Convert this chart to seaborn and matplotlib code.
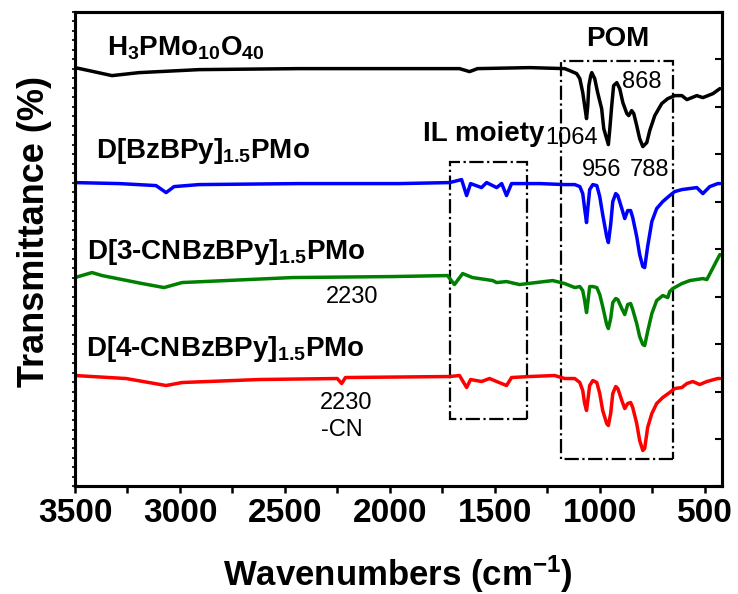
import matplotlib
matplotlib.use("Agg")
import matplotlib.pyplot as plt
from matplotlib.patches import Rectangle
from matplotlib.ticker import MultipleLocator
import seaborn as sns
import pandas as pd

# FTIR spectra, offset transmittance (arbitrary units)
hpmo_wn = [3500, 3433, 3324, 3195, 2909, 2432, 1955, 1669, 1621, 1583, 1335, 1168, 1144, 1111,
           1096, 1082, 1073, 1064, 1058, 1053, 1044, 1039, 1025, 1011, 992, 982, 960, 953, 944,
           935, 920, 906, 891, 872, 863, 849, 839, 825, 811, 796, 777, 763, 739, 706, 677, 643,
           610, 586, 539, 510, 462, 429]
hpmo_t = [419, 416, 411, 414, 417, 418, 418, 418, 415, 418, 419, 418, 416, 413,
          408, 394, 381, 368, 381, 401, 411, 414, 408, 394, 378, 358, 342, 358, 381,
          401, 404, 398, 384, 373, 371, 376, 373, 361, 348, 340, 344, 356, 371, 383, 388, 391,
          391, 387, 391, 389, 393, 398]

bz_wn = [3500, 3290, 3114, 3066, 3028, 2909, 2432, 1955, 1716, 1659, 1635, 1616, 1564, 1540,
         1492, 1468, 1445, 1421, 1287, 1168, 1120, 1096, 1082, 1073, 1064, 1058, 1049, 1034,
         1015, 1001, 987, 968, 960, 949, 939, 925, 915, 896, 882, 868, 854, 844, 825, 811, 796,
         787, 773, 753, 730, 701, 668, 644, 610, 539, 510, 477, 439, 429]
bz_t = [304, 303, 301, 294, 300, 302, 303, 303, 304, 307, 291, 303, 299, 304,
        299, 303, 291, 303, 303, 302, 302, 300, 293, 278, 264, 278, 297, 302,
        301, 290, 272, 250, 244, 262, 285, 293, 291, 278, 268, 276, 276, 269, 250, 232, 220,
        219, 240, 265, 278, 285, 291, 295, 297, 299, 293, 300, 303, 303]

cn3_wn = [3500, 3419, 3371, 3180, 3076, 2990, 2465, 1988, 1726, 1693, 1654, 1607, 1511, 1492,
          1445, 1383, 1225, 1168, 1144, 1120, 1096, 1082, 1073, 1064, 1058, 1049, 1034, 1015,
          1001, 987, 968, 960, 949, 939, 925, 915, 896, 882, 868, 854, 844, 825, 811, 796, 787,
          773, 753, 730, 701, 677, 668, 653, 610, 572, 510, 491, 439, 429]
cn3_t = [209, 214, 211, 203, 199, 204, 209, 210, 211, 202, 213, 209, 206, 204,
         205, 202, 206, 203, 201, 199, 200, 196, 186, 174, 184, 200, 200, 199,
         192, 180, 162, 158, 168, 184, 188, 187, 178, 172, 182, 183, 177, 163, 150, 142, 141,
         155, 173, 186, 191, 189, 195, 198, 203, 206, 208, 207, 228, 232]

cn4_wn = [3500, 3257, 3066, 2990, 2623, 2251, 2230, 2212, 1716, 1669, 1635, 1616, 1564, 1526,
          1492, 1445, 1421, 1335, 1216, 1168, 1120, 1096, 1082, 1073, 1064, 1058, 1049, 1034,
          1015, 1001, 987, 968, 960, 949, 939, 925, 915, 896, 882, 868, 854, 844, 825, 811, 796,
          787, 773, 753, 730, 701, 668, 644, 610, 586, 558, 525, 491, 439, 429]
cn4_t = [111, 108, 101, 104, 107, 108, 103, 109, 110, 111, 99, 107, 105, 108,
         105, 101, 109, 110, 111, 108, 108, 104, 96, 83, 76, 86, 101, 106,
         104, 93, 76, 63, 61, 73, 93, 100, 98, 86, 78, 83, 84, 79, 63, 46, 36,
         38, 59, 73, 83, 89, 94, 98, 99, 103, 105, 102, 105, 108, 108]

series = [
    (hpmo_wn, hpmo_t, "black", r"H$_\mathbf{3}$PMo$_\mathbf{10}$O$_\mathbf{40}$", (3347, 431)),
    (bz_wn, bz_t, "#0000ff", r"D[BzBPy]$_\mathbf{1.5}$PMo", (3400, 329)),
    (cn3_wn, cn3_t, "#008000", r"D[3-CNBzBPy]$_\mathbf{1.5}$PMo", (3443, 228)),
    (cn4_wn, cn4_t, "#ff0000", r"D[4-CNBzBPy]$_\mathbf{1.5}$PMo", (3448, 131)),
]

sns.set_style("ticks")
plt.rcParams["font.family"] = ["Liberation Sans", "DejaVu Sans"]
plt.rcParams["mathtext.fontset"] = "custom"
plt.rcParams["mathtext.rm"] = "Liberation Sans:bold"
plt.rcParams["mathtext.bf"] = "Liberation Sans:bold"
plt.rcParams["mathtext.default"] = "bf"
for k in ["text.color", "axes.labelcolor", "xtick.color", "ytick.color", "axes.edgecolor"]:
    plt.rcParams[k] = "black"

fig = plt.figure(figsize=(7.38, 5.94), dpi=100)
ax = fig.add_axes([0.1016, 0.181, 0.8764, 0.7994])

for wn, t, col, lab, pos in series:
    df = pd.DataFrame({"wn": wn, "T": t})
    sns.lineplot(data=df, x="wn", y="T", color=col, lw=2.5, estimator=None, ax=ax,
                 solid_joinstyle="round", solid_capstyle="round")
    ax.text(pos[0], pos[1], lab, fontsize=20, fontweight="bold", ha="left", va="baseline")

ax.set_xlim(3500, 420)
ax.set_ylim(0, 475)

# dash-dot boxes
ax.add_patch(Rectangle((1349, 68), 1716 - 1349, 325 - 68, fill=False, ls="-.", lw=1.6, ec="black"))
ax.add_patch(Rectangle((653, 27), 1187 - 653, 426 - 27, fill=False, ls="-.", lw=1.6, ec="black"))

ax.text(1845, 346, "IL moiety", fontsize=20, fontweight="bold", ha="left", va="baseline")
ax.text(915, 441, "POM", fontsize=20, fontweight="bold", ha="center", va="baseline")
ax.text(1011, 343, "1064", fontsize=17, ha="right", va="baseline")
ax.text(896, 399, "868", fontsize=17, ha="left", va="baseline")
ax.text(1087, 311, "956", fontsize=17, ha="left", va="baseline")
ax.text(858, 311, "788", fontsize=17, ha="left", va="baseline")
ax.text(2303, 184, "2230", fontsize=17, ha="left", va="baseline")
ax.text(2336, 78, "2230", fontsize=17, ha="left", va="baseline")
ax.text(2327, 51, "-CN", fontsize=17, ha="left", va="baseline")

ax.xaxis.set_major_locator(MultipleLocator(500))
ax.xaxis.set_minor_locator(MultipleLocator(250))
ax.yaxis.set_major_locator(MultipleLocator(47.5))
ax.yaxis.set_minor_locator(MultipleLocator(9.5))
ax.tick_params(axis="x", which="both", direction="out", length=5, width=1.8, pad=3,
               labelsize=24, top=False)
ax.tick_params(axis="y", which="both", direction="out", length=2.5, width=1.2,
               labelleft=False, right=False)
for lb in ax.get_xticklabels():
    lb.set_fontweight("bold")

tw = ax.twinx()
tw.set_ylim(ax.get_ylim())
tw.yaxis.set_major_locator(MultipleLocator(47.5))
tw.tick_params(axis="y", direction="in", length=5, width=1.5, labelright=False)

for a in (ax, tw):
    for s in a.spines.values():
        s.set_linewidth(2.2)
        s.set_color("black")

ax.set_xlabel(r"Wavenumbers (cm$^\mathbf{-1}$)", fontsize=25, fontweight="bold", labelpad=18)
ax.set_ylabel("Transmittance (%)", fontsize=26, fontweight="bold")
ax.yaxis.set_label_coords(-0.036, 0.538)

fig.savefig("out.png", dpi=100)
